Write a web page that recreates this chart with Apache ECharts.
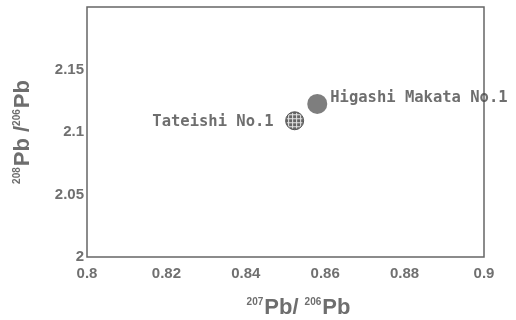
<!DOCTYPE html>
<html>
<head>
<meta charset="utf-8">
<script src="https://cdn.jsdelivr.net/npm/echarts@6/dist/echarts.min.js"></script>
<style>
  html, body { margin: 0; padding: 0; background: #fff; }
  #chart { width: 516px; height: 320px; }
</style>
</head>
<body>
<div id="chart"></div>
<script>
// Lead isotope ratios of two ore deposits
const mineNames = ['Higashi Makata No.1', 'Tateishi No.1'];
const pb207_206 = [0.858, 0.8523];
const pb208_206 = [2.1225, 2.109];
const xTicks = [0.8, 0.82, 0.84, 0.86, 0.88, 0.9];
const yTicks = [2, 2.05, 2.1, 2.15];

const labelFont = {
  fontFamily: 'DejaVu Sans Mono',
  fontSize: 15.5,
  color: '#4a4a4a',
  fontWeight: 'bold'
};

const axisLabelStyle = {
  fontFamily: 'Liberation Sans, Arial, sans-serif',
  fontWeight: 'bold',
  fontSize: 15,
  color: '#707070'
};

const nameRich = {
  sup: { fontSize: 10, fontWeight: 'bold', color: '#6e6e6e', fontFamily: 'Liberation Sans', verticalAlign: 'top', padding: [0, 1, 10, 0] },
  pb: { fontSize: 22, fontWeight: 'bold', color: '#6e6e6e', fontFamily: 'Liberation Sans' }
};

// Circle marker with a cross-hatched grid of light lines
function hatchedDot(params, api) {
  const c = api.coord([api.value(0), api.value(1)]);
  const r = 9;
  const step = 4;
  const children = [{
    type: 'circle',
    shape: { cx: c[0], cy: c[1], r: r },
    style: { fill: '#666', stroke: '#555', lineWidth: 1 }
  }];
  for (let d = -6; d <= 6; d += step) {
    const h = Math.sqrt(r * r - d * d) - 1;
    children.push({
      type: 'line',
      shape: { x1: c[0] + d, y1: c[1] - h, x2: c[0] + d, y2: c[1] + h },
      style: { stroke: '#e6e6e6', lineWidth: 1 }
    });
    children.push({
      type: 'line',
      shape: { x1: c[0] - h, y1: c[1] + d, x2: c[0] + h, y2: c[1] + d },
      style: { stroke: '#e6e6e6', lineWidth: 1 }
    });
  }
  return { type: 'group', children: children };
}

const chart = echarts.init(document.getElementById('chart'), null, { renderer: 'canvas' });
chart.setOption({
  animation: false,
  backgroundColor: '#fff',
  grid: {
    left: 87, right: 32, top: 7, bottom: 63,
    outerBoundsMode: 'none',
    containLabel: false,
    show: true, borderColor: '#666', borderWidth: 1.5
  },
  xAxis: {
    type: 'value',
    min: xTicks[0], max: xTicks[xTicks.length - 1], interval: 0.02,
    axisLine: { show: false },
    axisTick: { show: false },
    splitLine: { show: false },
    axisLabel: Object.assign({ margin: 9, formatter: v => String(+v.toFixed(2)) }, axisLabelStyle),
    name: '{sup|207}{pb|Pb/ }{sup|206}{pb|Pb}',
    nameLocation: 'middle',
    nameGap: 40,
    nameTextStyle: { rich: nameRich, padding: [0, 0, 0, 26] }
  },
  yAxis: {
    type: 'value',
    min: 2, max: 2.2, interval: 0.05,
    axisLine: { show: false },
    axisTick: { show: false },
    splitLine: { show: false },
    axisLabel: Object.assign({
      margin: 3,
      formatter: v => (yTicks.some(t => Math.abs(t - v) < 1e-9) ? String(+v.toFixed(2)) : '')
    }, axisLabelStyle),
    name: '{sup|208}{pb|Pb /}{sup|206}{pb|Pb}',
    nameLocation: 'middle',
    nameRotate: 90,
    nameGap: 53,
    nameTextStyle: { rich: nameRich }
  },
  series: [
    {
      type: 'scatter',
      symbol: 'circle',
      symbolSize: 20,
      data: [[pb207_206[0], pb208_206[0], mineNames[0]]],
      itemStyle: { color: '#5e5e5e' },
      label: Object.assign({ show: true, position: 'right', distance: 3, offset: [0, -6], formatter: p => p.data[2] }, labelFont)
    },
    {
      type: 'custom',
      renderItem: hatchedDot,
      data: [[pb207_206[1], pb208_206[1], mineNames[1]]],
      encode: { x: 0, y: 1 }
    },
    {
      // text label for the hatched marker
      type: 'scatter',
      symbolSize: 18,
      itemStyle: { color: 'rgba(0,0,0,0)' },
      data: [[pb207_206[1], pb208_206[1], mineNames[1]]],
      label: Object.assign({ show: true, position: 'left', distance: 12, offset: [0, 1], formatter: p => p.data[2] }, labelFont)
    }
  ]
});
</script>
</body>
</html>
